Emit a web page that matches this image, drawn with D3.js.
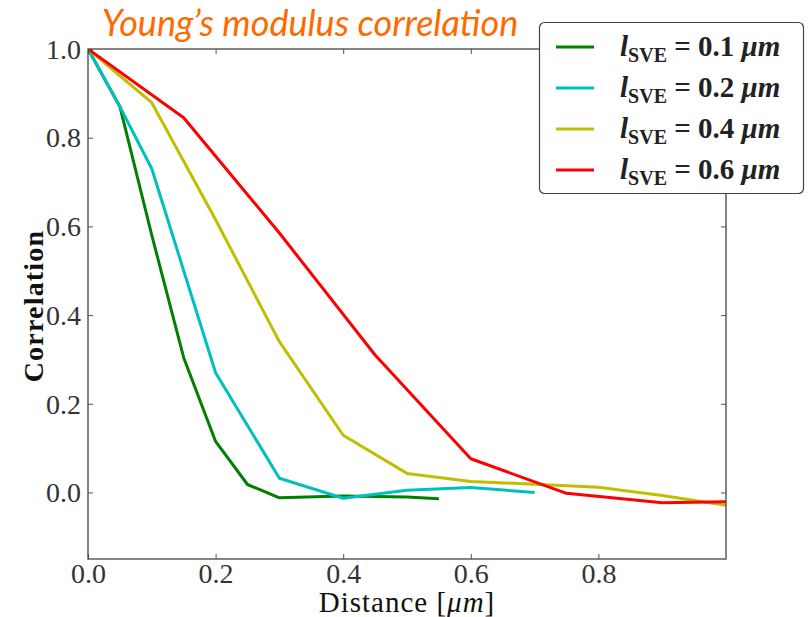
<!DOCTYPE html>
<html><head><meta charset="utf-8">
<script src="https://cdn.jsdelivr.net/npm/d3@7"></script>
<style>body{margin:0;background:#fff;} svg{display:block;}</style>
</head><body>
<script>
const xTicks = [0.0, 0.2, 0.4, 0.6, 0.8];
const yTicks = [0.0, 0.2, 0.4, 0.6, 0.8, 1.0];
const seriesNames = ["0.1", "0.2", "0.4", "0.6"];
const seriesColors = ["#008000", "#00BFBF", "#BFBF00", "#FF0000"];
const green = [[0,1],[0.05,0.87],[0.1,0.58],[0.15,0.304],[0.2,0.115],[0.25,0.018],[0.3,-0.012],[0.4,-0.008],[0.5,-0.01],[0.55,-0.014]];
const cyan = [[0,1],[0.05,0.87],[0.1,0.73],[0.2,0.27],[0.3,0.032],[0.4,-0.013],[0.5,0.005],[0.6,0.011],[0.7,0.0]];
const yellow = [[0,1],[0.1,0.879],[0.2,0.615],[0.3,0.34],[0.4,0.129],[0.5,0.043],[0.6,0.025],[0.8,0.012],[0.9,-0.007],[1.0,-0.029]];
const red = [[0,1],[0.15,0.845],[0.3,0.585],[0.45,0.31],[0.6,0.076],[0.75,-0.002],[0.9,-0.023],[1.0,-0.021]];
const series = [green, cyan, yellow, red];

const W = 808, H = 617;
const L = 88, R = 726, T = 49, B = 559;
const svg = d3.select("body").append("svg").attr("width", W).attr("height", H);
const x = d3.scaleLinear().domain([0, 1]).range([L, R]);
const y = d3.scaleLinear().domain([-0.15, 1.0]).range([B, T]);

// title
svg.append("text").attr("x", 310).attr("y", 36).attr("text-anchor", "middle")
  .attr("font-family", "Lato, 'Open Sans', sans-serif").attr("font-style", "italic")
  .attr("font-size", 36).attr("fill", "#FF6A00").text("Young\u2019s modulus correlation");

svg.append("clipPath").attr("id", "c").append("rect")
  .attr("x", L).attr("y", T).attr("width", R - L).attr("height", B - T);

const line = d3.line().x(d => x(d[0])).y(d => y(d[1]));
const g = svg.append("g").attr("clip-path", "url(#c)");
series.forEach((s, i) => {
  g.append("path").datum(s).attr("d", line).attr("fill", "none")
    .attr("stroke", seriesColors[i]).attr("stroke-width", 3).attr("stroke-linejoin", "round");
});

// axes with inward ticks
const tickFont = "'Liberation Serif', 'DejaVu Serif', serif";
const axB = svg.append("g").attr("transform", `translate(0,${B})`)
  .call(d3.axisBottom(x).tickValues(xTicks).tickSize(-5).tickPadding(4).tickFormat(d3.format(".1f")));
const axT = svg.append("g").attr("transform", `translate(0,${T})`)
  .call(d3.axisTop(x).tickValues(xTicks).tickSize(-5).tickFormat(""));
const axL = svg.append("g").attr("transform", `translate(${L},0)`)
  .call(d3.axisLeft(y).tickValues(yTicks).tickSize(-5).tickPadding(7).tickFormat(d3.format(".1f")));
const axR = svg.append("g").attr("transform", `translate(${R},0)`)
  .call(d3.axisRight(y).tickValues(yTicks).tickSize(-5).tickFormat(""));
[axB, axT, axL, axR].forEach(a => {
  a.select(".domain").remove();
  a.selectAll(".tick line").attr("stroke", "#555").attr("stroke-width", 1);
  a.selectAll("text").attr("font-family", tickFont).attr("font-size", 28).attr("fill", "#333");
});
axB.selectAll("text").attr("dy", "0.7em");
axL.selectAll("text").attr("dy", "0.33em");

svg.append("rect").attr("x", L).attr("y", T).attr("width", R - L).attr("height", B - T)
  .attr("fill", "none").attr("stroke", "#444").attr("stroke-width", 1.3);

// axis labels
svg.append("text").attr("x", 407).attr("y", 612).attr("text-anchor", "middle")
  .attr("font-family", tickFont).attr("font-size", 29).attr("letter-spacing", 1).attr("fill", "#111")
  .html("Distance [<tspan font-style='italic'>\u03BCm</tspan>]");
svg.append("text").attr("transform", "translate(43,306) rotate(-90)").attr("text-anchor", "middle")
  .attr("font-family", tickFont).attr("font-weight", "bold").attr("font-size", 28).attr("letter-spacing", 1.2).attr("fill", "#111")
  .text("Correlation");

// legend
const lg = svg.append("g");
lg.append("rect").attr("x", 539.5).attr("y", 22.5).attr("width", 264).attr("height", 171).attr("rx", 5)
  .attr("fill", "#fff").attr("stroke", "#444").attr("stroke-width", 1.2);
seriesNames.forEach((n, i) => {
  const yy = 47 + i * 41;
  lg.append("line").attr("x1", 556).attr("x2", 594).attr("y1", yy).attr("y2", yy)
    .attr("stroke", seriesColors[i]).attr("stroke-width", 3);
  const t = lg.append("text").attr("x", 620).attr("y", yy + 9)
    .attr("font-family", tickFont).attr("font-weight", "bold").attr("font-size", 29).attr("fill", "#222");
  t.append("tspan").attr("font-style", "italic").text("l");
  t.append("tspan").attr("font-size", 20).attr("dy", 6).text("SVE");
  t.append("tspan").attr("dy", -6).text(" = " + n + " ");
  t.append("tspan").attr("font-style", "italic").text("\u03BCm");
});
</script>
</body></html>
